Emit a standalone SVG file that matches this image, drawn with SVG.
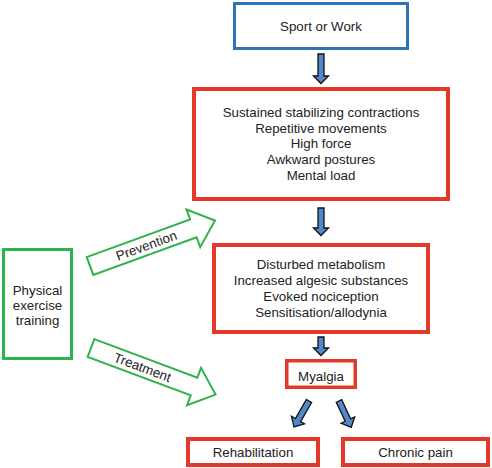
<svg xmlns="http://www.w3.org/2000/svg" width="492" height="468" viewBox="0 0 492 468">
<style>
text{font-family:"Liberation Sans",Arial,sans-serif;font-size:13.3px;fill:#222;text-anchor:middle}
.red{fill:#fff;stroke:#e3392b;stroke-width:4}
.blue{fill:#fff;stroke:#2e75b6;stroke-width:3}
.green{fill:#fff;stroke:#2db34c;stroke-width:3}
.garrow{fill:#fff;stroke:#2db34c;stroke-width:2;stroke-linejoin:miter}
.barrow{fill:#5189c8;stroke:#111;stroke-width:1.3;stroke-linejoin:miter}
</style>
<defs>
<path id="ga" d="M0,-9.5 L110,-9.5 L110,-20 L133,0 L110,20 L110,9.5 L0,9.5 Z"/>
</defs>
<rect width="492" height="468" fill="#fff"/>
<g id="connectors">
<path class="barrow" d="M318,54 L324,54 L324,76 L328.5,76 L321,83.5 L313.5,76 L318,76 Z"/>
<path class="barrow" d="M318,208 L324,208 L324,228 L328.5,228 L321,235.5 L313.5,228 L318,228 Z"/>
<path class="barrow" d="M318,337 L324,337 L324,348 L328.5,348 L321,355.5 L313.5,348 L318,348 Z"/>
<path class="barrow" transform="translate(309,401) rotate(30)" d="M-3,0 L3,0 L3,22 L7.5,22 L0,30 L-7.5,22 L-3,22 Z"/>
<path class="barrow" transform="translate(339,401) rotate(-25)" d="M-3,0 L3,0 L3,21 L7.5,21 L0,29 L-7.5,21 L-3,21 Z"/>
<g id="prevention" transform="translate(90,266) rotate(-20)">
<use href="#ga" class="garrow"/>
<text x="60" y="4.7">Prevention</text>
</g>
<g id="treatment" transform="translate(91,348) rotate(20.5)">
<use href="#ga" class="garrow"/>
<text x="55" y="4.7">Treatment</text>
</g>
</g>
<g id="sport">
<rect class="blue" x="234.5" y="3.5" width="173" height="45"/>
<text x="321" y="30.5">Sport or Work</text>
</g>
<g id="factors">
<rect class="red" x="194" y="89" width="254" height="110"/>
<text x="321" y="116.5">Sustained stabilizing contractions</text>
<text x="321" y="132.5">Repetitive movements</text>
<text x="321" y="148">High force</text>
<text x="321" y="164">Awkward postures</text>
<text x="321" y="180">Mental load</text>
</g>
<g id="mechanisms">
<rect class="red" x="214" y="245" width="214" height="87"/>
<text x="321" y="269">Disturbed metabolism</text>
<text x="321" y="285">Increased algesic substances</text>
<text x="321" y="301">Evoked nociception</text>
<text x="321" y="317">Sensitisation/allodynia</text>
</g>
<g id="myalgia">
<rect class="red" x="286.75" y="360.75" width="68.5" height="26.5" style="stroke-width:3.5"/>
<text x="321" y="381">Myalgia</text>
</g>
<g id="rehabilitation">
<rect class="red" x="188" y="439" width="130" height="26"/>
<text x="253" y="457">Rehabilitation</text>
</g>
<g id="chronic">
<rect class="red" x="343" y="439" width="145" height="26"/>
<text x="415.5" y="457">Chronic pain</text>
</g>
<g id="exercise">
<rect class="green" x="3.5" y="249.5" width="68" height="109"/>
<text x="37.5" y="295">Physical</text>
<text x="37.5" y="310">exercise</text>
<text x="37.5" y="325">training</text>
</g>
</svg>
